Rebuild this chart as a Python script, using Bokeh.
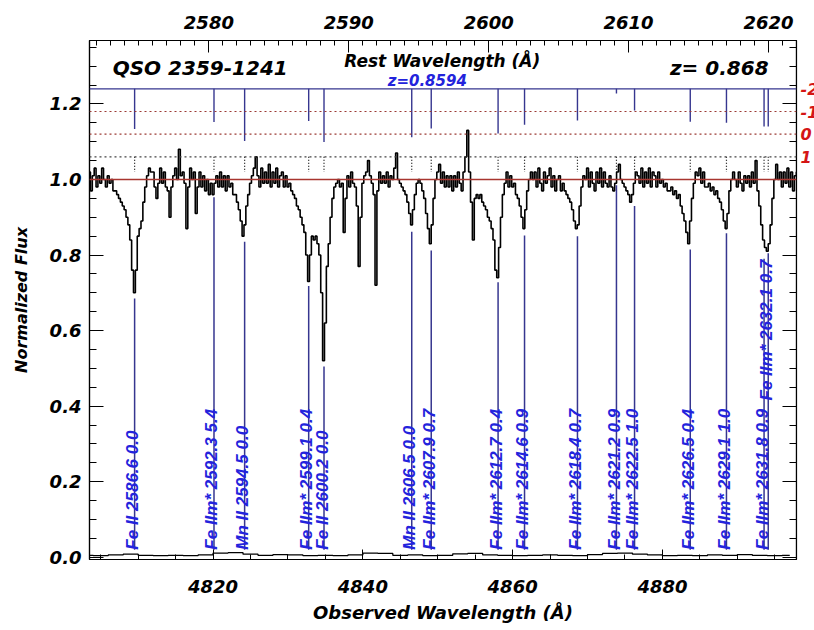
import numpy as np
from bokeh.plotting import figure
from bokeh.models import (Range1d, LinearAxis, SingleIntervalTicker, FixedTicker, PrintfTickFormatter,
                          CustomJSTickFormatter, Label, ColumnDataSource, Span)
from bokeh.core.properties import value
from bokeh.embed import file_html
from bokeh.resources import INLINE

# ---------------- data ----------------
Z_ABS = 0.8594          # absorber redshift (blue line markers)
Z_EM = 0.868            # redshift used for the rest-wavelength axis
OBS_RANGE = [4803.5, 4897.9]
FLUX_RANGE = [-0.006, 1.368]

WAVE_START = 4803.0     # flux sampled every 0.25 A, one row per Angstrom
WAVE_STEP = 0.25
flux = [
    1.01, 0.98, 1.02, 0.97,   # 4803
    1.01, 1.03, 0.98, 1.01,   # 4804
    0.99, 1.03, 1.00, 0.98,   # 4805
    1.01, 0.99, 1.00, 0.97,   # 4806
    0.97, 0.96, 0.95, 0.94,   # 4807
    0.93, 0.92, 0.90, 0.88,   # 4808
    0.84, 0.76, 0.70, 0.76,   # 4809
    0.85, 0.87, 0.89, 0.94,   # 4810
    0.98, 1.01, 1.03, 1.02,   # 4811
    1.02, 0.98, 0.95, 0.99,   # 4812
    1.03, 0.99, 1.02, 0.98,   # 4813
    0.97, 0.90, 0.98, 1.01,   # 4814
    1.03, 1.00, 1.08, 1.01,   # 4815
    1.02, 0.99, 0.87, 0.98,   # 4816
    1.03, 1.00, 1.02, 0.91,   # 4817
    0.98, 1.02, 0.98, 1.01,   # 4818
    0.97, 1.00, 0.96, 0.99,   # 4819
    0.96, 0.99, 1.01, 0.98,   # 4820
    1.02, 0.98, 1.01, 0.97,   # 4821
    1.01, 0.98, 0.99, 0.96,   # 4822
    0.96, 0.94, 0.92, 0.89,   # 4823
    0.85, 0.88, 0.93, 0.96,   # 4824
    0.99, 1.01, 1.03, 1.06,   # 4825
    1.01, 0.98, 1.03, 0.99,   # 4826
    1.02, 0.99, 1.04, 0.98,   # 4827
    1.02, 0.99, 1.03, 0.98,   # 4828
    1.01, 1.02, 0.98, 1.01,   # 4829
    0.98, 0.99, 0.97, 0.96,   # 4830
    0.95, 0.93, 0.92, 0.90,   # 4831
    0.88, 0.86, 0.80, 0.73,   # 4832
    0.80, 0.85, 0.84, 0.85,   # 4833
    0.83, 0.80, 0.70, 0.52,   # 4834
    0.62, 0.77, 0.83, 0.90,   # 4835
    0.95, 0.98, 0.99, 1.00,   # 4836
    0.98, 0.99, 0.86, 0.95,   # 4837
    1.01, 0.98, 1.02, 0.99,   # 4838
    0.98, 0.93, 0.77, 0.90,   # 4839
    0.99, 1.01, 1.02, 1.05,   # 4840
    1.01, 0.99, 0.96, 0.72,   # 4841
    0.97, 1.02, 0.99, 1.01,   # 4842
    0.99, 1.02, 0.98, 1.01,   # 4843
    1.00, 1.03, 1.07, 1.00,   # 4844
    0.99, 0.98, 0.97, 0.96,   # 4845
    0.94, 0.91, 0.88, 0.92,   # 4846
    0.96, 0.99, 1.00, 0.99,   # 4847
    0.97, 0.95, 0.91, 0.87,   # 4848
    0.83, 0.88, 0.95, 1.00,   # 4849
    1.02, 1.04, 0.99, 1.02,   # 4850
    0.98, 1.01, 0.98, 1.01,   # 4851
    0.97, 1.01, 0.98, 1.02,   # 4852
    0.99, 0.97, 1.02, 1.06,   # 4853
    1.13, 1.02, 0.94, 0.84,   # 4854
    0.95, 0.96, 0.95, 0.96,   # 4855
    0.94, 0.93, 0.92, 0.90,   # 4856
    0.89, 0.87, 0.84, 0.76,   # 4857
    0.74, 0.82, 0.90, 0.96,   # 4858
    0.99, 1.02, 0.98, 1.01,   # 4859
    0.98, 0.99, 0.96, 0.95,   # 4860
    0.93, 0.90, 0.87, 0.92,   # 4861
    0.97, 1.00, 1.02, 1.00,   # 4862
    1.02, 0.98, 1.03, 0.99,   # 4863
    0.97, 1.02, 0.99, 1.01,   # 4864
    1.03, 0.98, 1.01, 0.97,   # 4865
    1.00, 1.01, 0.97, 0.99,   # 4866
    0.97, 0.96, 0.95, 0.94,   # 4867
    0.92, 0.89, 0.87, 0.88,   # 4868
    0.93, 0.98, 1.01, 1.00,   # 4869
    1.03, 0.98, 1.02, 0.99,   # 4870
    0.97, 1.02, 0.99, 1.03,   # 4871
    0.98, 1.02, 0.99, 0.98,   # 4872
    1.01, 0.98, 0.97, 0.99,   # 4873
    1.02, 1.04, 1.00, 0.99,   # 4874
    0.98, 0.97, 0.96, 0.94,   # 4875
    0.96, 0.99, 1.02, 1.01,   # 4876
    0.99, 1.03, 0.98, 1.02,   # 4877
    0.99, 1.03, 0.98, 1.02,   # 4878
    1.01, 0.98, 1.02, 0.99,   # 4879
    1.00, 0.98, 0.99, 0.97,   # 4880
    0.97, 0.98, 0.96, 0.97,   # 4881
    0.95, 0.96, 0.93, 0.91,   # 4882
    0.89, 0.86, 0.83, 0.89,   # 4883
    0.95, 0.99, 1.02, 1.01,   # 4884
    1.03, 0.99, 1.02, 0.98,   # 4885
    0.98, 0.99, 0.97, 0.98,   # 4886
    0.96, 0.97, 0.95, 0.94,   # 4887
    0.92, 0.89, 0.87, 0.91,   # 4888
    0.97, 1.00, 1.02, 1.00,   # 4889
    0.98, 1.02, 0.99, 0.97,   # 4890
    1.01, 0.99, 1.01, 0.98,   # 4891
    1.02, 0.99, 1.05, 0.97,   # 4892
    0.93, 0.88, 0.84, 0.82,   # 4893
    0.81, 0.83, 0.88, 0.95,   # 4894
    1.00, 1.04, 1.00, 1.02,   # 4895
    0.98, 1.02, 0.99, 1.03,   # 4896
    0.98, 1.02, 0.97, 1.01,   # 4897
    1.02, 0.98, 1.01, 0.99,   # 4898
]

ERR_START = 4803.0      # error spectrum sampled every 2 A
ERR_STEP = 2.0
err = [0.005, 0.004, 0.006, 0.008, 0.005, 0.004, 0.005, 0.004, 0.006, 0.011,
       0.012, 0.008, 0.005, 0.007, 0.006, 0.004, 0.005, 0.004, 0.006, 0.011,
       0.010, 0.005, 0.006, 0.004, 0.005, 0.009, 0.010, 0.006, 0.005, 0.004,
       0.005, 0.006, 0.005, 0.004, 0.007, 0.010, 0.011, 0.008, 0.006, 0.004,
       0.005, 0.004, 0.006, 0.005, 0.007, 0.005, 0.004, 0.005]

line_ion = ["Fe II", "Fe IIm*", "Mn II", "Fe IIm*", "Fe II", "Mn II", "Fe IIm*", "Fe IIm*",
            "Fe IIm*", "Fe IIm*", "Fe IIm*", "Fe IIm*", "Fe IIm*", "Fe IIm*", "Fe IIm*", "Fe IIm*"]
line_rest = [2586.6, 2592.3, 2594.5, 2599.1, 2600.2, 2606.5, 2607.9, 2612.7,
             2614.6, 2618.4, 2621.2, 2622.5, 2626.5, 2629.1, 2631.8, 2632.1]
line_note = ["0.0", "5.4", "0.0", "0.4", "0.0", "0.0", "0.7", "0.4",
             "0.9", "0.7", "0.9", "1.0", "0.4", "1.0", "0.9", "0.7"]
line_top = [0.685, 0.953, 0.835, 0.718, 0.505, 0.862, 0.812, 0.728,
            0.852, 0.850, 0.985, 0.930, 0.815, 0.858, 0.790, 0.805]
label_base = [0.02, 0.02, 0.02, 0.02, 0.02, 0.02, 0.02, 0.02,
              0.02, 0.02, 0.02, 0.02, 0.02, 0.02, 0.02, 0.415]
tick_bottom = [1.134, 1.152, 1.102, 1.155, 1.099, 1.112, 1.135, 1.122,
               1.145, 1.156, 1.228, 1.183, 1.153, 1.150, 1.140, 1.140]

strength_levels = [1.06, 1.12, 1.18, 1.24]
strength_labels = ["1", "0", "-1", "-2"]
continuum = 1.0
marker_gap = [1.06, 1.02]

# ---------------- derived ----------------
wave = WAVE_START + WAVE_STEP * np.arange(len(flux))
err_wave = ERR_START + ERR_STEP * np.arange(len(err))
line_obs = [r * (1 + Z_ABS) for r in line_rest]
line_text = [f"{i} {r:.1f} {n}" for i, r, n in zip(line_ion, line_rest, line_note)]

TICK_FONT = "DejaVu Sans"
LBL_FONT = "Liberation Sans"
BLUE_LINE = "#36368f"
BLUE_TEXT = "#2323dc"

p = figure(width=814, height=630, output_backend="svg", toolbar_location=None,
           x_range=Range1d(*OBS_RANGE), y_range=Range1d(*FLUX_RANGE),
           min_border_left=89, min_border_right=15, min_border_top=40, min_border_bottom=71)
p.grid.visible = False
p.outline_line_color = "black"
p.outline_line_width = 1.2
p.background_fill_color = "white"
p.border_fill_color = "white"


def style_axis(ax, major_in, minor_in):
    ax.major_tick_in = major_in
    ax.major_tick_out = 0
    ax.minor_tick_in = minor_in
    ax.minor_tick_out = 0
    ax.axis_line_color = "black"
    ax.axis_line_width = 1.2
    ax.major_tick_line_color = "black"
    ax.minor_tick_line_color = "black"
    ax.major_label_text_font = TICK_FONT
    ax.major_label_text_font_style = "bold italic"
    ax.major_label_text_font_size = "18px"
    ax.major_label_text_color = "black"
    ax.axis_label_text_font = TICK_FONT
    ax.axis_label_text_font_style = "bold italic"
    ax.axis_label_text_color = "black"


xa = p.xaxis[0]
xa.ticker = SingleIntervalTicker(interval=20, num_minor_ticks=4)
style_axis(xa, 10, 5)
xa.major_label_standoff = 20
xa.axis_label = "Observed Wavelength (Å)"
xa.axis_label_text_font_size = "18px"
xa.axis_label_standoff = 6

ya = p.yaxis[0]
ya.ticker = SingleIntervalTicker(interval=0.2, num_minor_ticks=4)
ya.formatter = PrintfTickFormatter(format="%.1f")
style_axis(ya, 14, 7)
ya.major_label_standoff = 8
ya.axis_label = "Normalized Flux"
ya.axis_label_text_font_size = "16px"
ya.axis_label_standoff = 16

# mirrored right frame ticks (no labels), pinned to the frame edge
ra = LinearAxis(ticker=SingleIntervalTicker(interval=0.2, num_minor_ticks=4),
                formatter=CustomJSTickFormatter(code="return '';"),
                fixed_location=OBS_RANGE[1])
style_axis(ra, 14, 7)
ra.major_label_standoff = 0
p.add_layout(ra, "right")

# red strength scale on the right, outside the frame (runs off the canvas edge)
sa = LinearAxis(ticker=FixedTicker(ticks=strength_levels, minor_ticks=[]),
                formatter=CustomJSTickFormatter(
                    args=dict(levels=strength_levels, labels=strength_labels),
                    code="const i = levels.findIndex(v => Math.abs(v - tick) < 1e-6);"
                         " return i >= 0 ? labels[i] : '';"))
sa.axis_line_color = None
sa.major_tick_line_color = None
sa.minor_tick_line_color = None
sa.major_tick_in = 0
sa.major_tick_out = 0
sa.major_label_standoff = 4
sa.major_label_text_font = TICK_FONT
sa.major_label_text_font_style = "bold italic"
sa.major_label_text_font_size = "16px"
sa.major_label_text_color = "#d41515"
sa.axis_label = " "
sa.axis_label_text_font_size = "2px"
sa.axis_label_standoff = -12
p.add_layout(sa, "right")

p.extra_x_ranges = {"rest": Range1d(OBS_RANGE[0] / (1 + Z_EM), OBS_RANGE[1] / (1 + Z_EM))}
ta = LinearAxis(x_range_name="rest", ticker=SingleIntervalTicker(interval=10, num_minor_ticks=10))
style_axis(ta, 12, 5)
ta.major_label_standoff = 12
p.add_layout(ta, "above")

# horizontal reference lines
for lev in strength_levels[:3]:
    col = "#444444" if lev == strength_levels[0] else "#9c3b35"
    p.add_layout(Span(location=lev, dimension="width", line_color=col,
                      line_dash="2 3", line_width=1.2))
p.add_layout(Span(location=strength_levels[3], dimension="width", line_color=BLUE_LINE, line_width=1.3))
p.add_layout(Span(location=continuum, dimension="width", line_color="#a8352f", line_width=1.4))

# error spectrum and flux
p.step(err_wave, err, mode="center", line_color="black", line_width=1.3)
p.step(wave, flux, mode="center", line_color="black", line_width=1.6)

src = ColumnDataSource(dict(x=line_obs, top=line_top, base=label_base, tb=tick_bottom,
                            txt=line_text,
                            ltop=[strength_levels[3]] * len(line_obs),
                            lb=[0.02] * len(line_obs),
                            d0=[marker_gap[0]] * len(line_obs),
                            d1=[marker_gap[1]] * len(line_obs)))

# hanging strength ticks from the blue line
p.segment(x0="x", y0="ltop", x1="x", y1="tb", source=src, line_color=BLUE_LINE, line_width=1.4)
# short dotted markers
p.segment(x0="x", y0="d0", x1="x", y1="d1", source=src, line_color="black", line_width=1.2,
          line_dash="1 2")
# line identification rulers
p.segment(x0="x", y0="lb", x1="x", y1="top", source=src, line_color=BLUE_LINE, line_width=1.5)
p.text(x="x", y="base", text="txt", source=src, angle=np.pi / 2, x_offset=-2,
       text_align="left", text_baseline="alphabetic", text_color=BLUE_TEXT,
       text_font=value(LBL_FONT), text_font_style="bold italic", text_font_size=value("17px"))

# annotations
p.add_layout(Label(x=4806.6, y=1.296, text="QSO 2359-1241", text_font=TICK_FONT,
                   text_font_style="bold italic", text_font_size="20px", text_color="black",
                   text_align="left", text_baseline="middle"))
p.add_layout(Label(x=4895.1, y=1.294, text=f"z=  {Z_EM:.3f}", text_font=TICK_FONT,
                   text_font_style="bold italic", text_font_size="20px", text_color="black",
                   text_align="right", text_baseline="middle"))
p.add_layout(Label(x=4850.6, y=1.315, text="Rest Wavelength (Å)", text_font=TICK_FONT,
                   text_font_style="bold italic", text_font_size="17px", text_color="black",
                   text_align="center", text_baseline="middle"))
p.add_layout(Label(x=4848.6, y=1.260, text=f"z={Z_ABS:.4f}", text_font=TICK_FONT,
                   text_font_style="bold italic", text_font_size="15px", text_color=BLUE_TEXT,
                   text_align="center", text_baseline="middle"))

open("out.html", "w").write(file_html(p, INLINE))
